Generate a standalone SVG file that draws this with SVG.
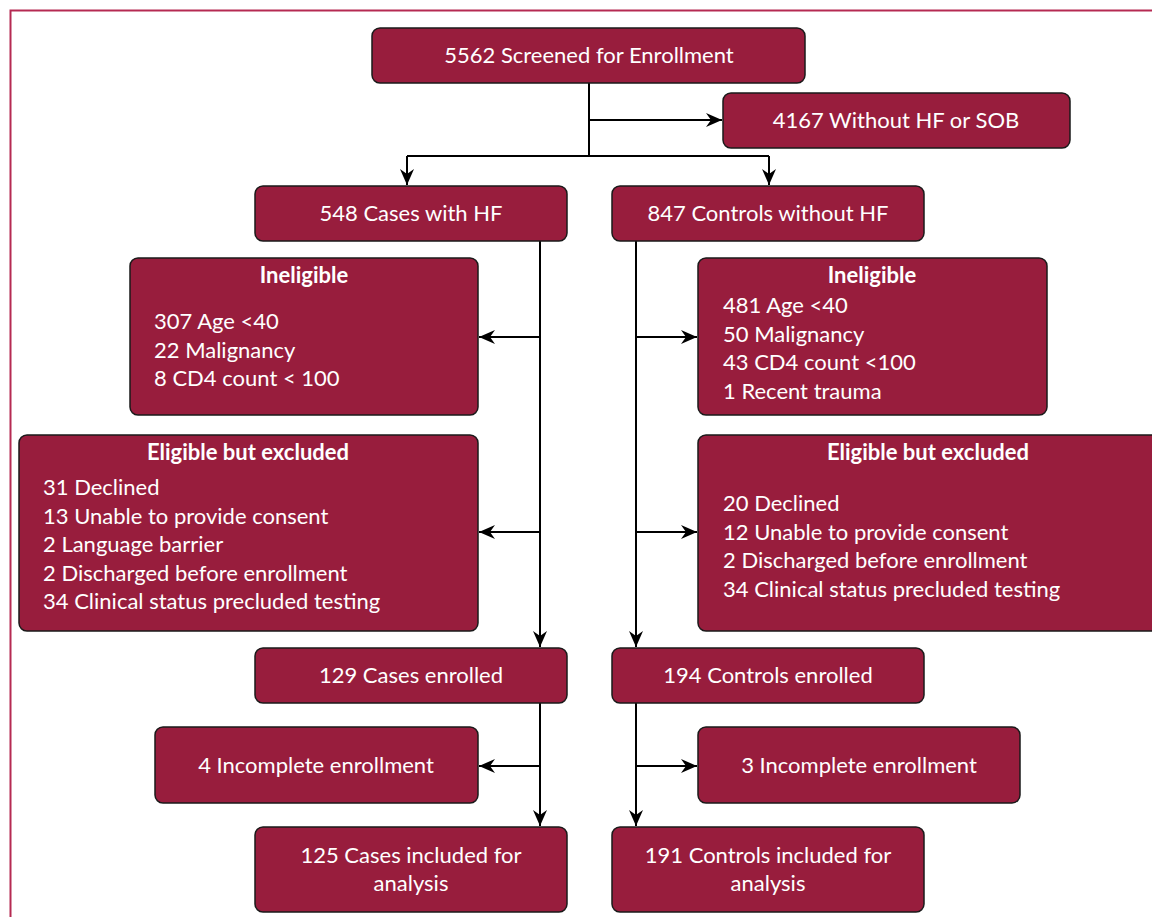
<svg xmlns="http://www.w3.org/2000/svg" width="1152" height="917" viewBox="0 0 1152 917">
<style>
.box{fill:#981d3d;stroke:#1a1a1a;stroke-width:1.5}
.t{font-family:Lato,"Open Sans","Liberation Sans",sans-serif;font-size:22px;fill:#ffffff}
.c{text-anchor:middle}
.b{font-weight:bold}
.ln{fill:none;stroke:#000;stroke-width:2}
</style>
<defs>
<marker id="ah" markerWidth="16" markerHeight="14" refX="16" refY="7" orient="auto" markerUnits="userSpaceOnUse" viewBox="0 0 16 14">
<path d="M0,0 L16,7 L0,14 L5,7 Z" fill="#000"/>
</marker>
</defs>
<rect x="0" y="0" width="1152" height="917" fill="#fff"/>
<path d="M10.5,917 L10.5,10.5 L1152,10.5" fill="none" stroke="#b52a52" stroke-width="2"/>
<g id="connectors">
<path class="ln" d="M589,83 V156"/>
<path class="ln" d="M589,120 H722" marker-end="url(#ah)"/>
<path class="ln" d="M407,156 H769"/>
<path class="ln" d="M407,156 V185" marker-end="url(#ah)"/>
<path class="ln" d="M769,156 V185" marker-end="url(#ah)"/>
<path class="ln" d="M540,241 V647" marker-end="url(#ah)"/>
<path class="ln" d="M540,337 H479" marker-end="url(#ah)"/>
<path class="ln" d="M540,532 H479" marker-end="url(#ah)"/>
<path class="ln" d="M636,241 V647" marker-end="url(#ah)"/>
<path class="ln" d="M636,337 H697" marker-end="url(#ah)"/>
<path class="ln" d="M636,532 H697" marker-end="url(#ah)"/>
<path class="ln" d="M540,703 V826" marker-end="url(#ah)"/>
<path class="ln" d="M540,766 H479" marker-end="url(#ah)"/>
<path class="ln" d="M636,703 V826" marker-end="url(#ah)"/>
<path class="ln" d="M636,766 H697" marker-end="url(#ah)"/>
</g>
<g id="screened"><rect class="box" x="372" y="28" width="433" height="55" rx="8"/><text class="t c" x="589" y="63">5562 Screened for Enrollment</text></g>
<g id="without"><rect class="box" x="723" y="93" width="347" height="55" rx="8"/><text class="t c" x="896" y="128">4167 Without HF or SOB</text></g>
<g id="cases"><rect class="box" x="255" y="186" width="312" height="55" rx="8"/><text class="t c" x="411" y="221">548 Cases with HF</text></g>
<g id="controls"><rect class="box" x="612" y="186" width="312" height="55" rx="8"/><text class="t c" x="768" y="221">847 Controls without HF</text></g>
<g id="inel-left"><rect class="box" x="130" y="258" width="348" height="157" rx="8"/>
<text class="t c b" x="304" y="283">Ineligible</text>
<text class="t" x="154" y="329">307 Age &lt;40</text>
<text class="t" x="154" y="358">22 Malignancy</text>
<text class="t" x="154" y="386">8 CD4 count &lt; 100</text></g>
<g id="inel-right"><rect class="box" x="698" y="258" width="349" height="157" rx="8"/>
<text class="t c b" x="872" y="283">Ineligible</text>
<text class="t" x="723" y="313">481 Age &lt;40</text>
<text class="t" x="723" y="342">50 Malignancy</text>
<text class="t" x="723" y="370">43 CD4 count &lt;100</text>
<text class="t" x="723" y="399">1 Recent trauma</text></g>
<g id="elig-left"><rect class="box" x="19" y="435" width="459" height="196" rx="8"/>
<text class="t c b" x="248" y="460">Eligible but excluded</text>
<text class="t" x="43" y="495">31 Declined</text>
<text class="t" x="43" y="524">13 Unable to provide consent</text>
<text class="t" x="43" y="552">2 Language barrier</text>
<text class="t" x="43" y="581">2 Discharged before enrollment</text>
<text class="t" x="43" y="609">34 Clinical status precluded testing</text></g>
<g id="elig-right"><rect class="box" x="698" y="435" width="470" height="196" rx="8"/>
<text class="t c b" x="928" y="460">Eligible but excluded</text>
<text class="t" x="723" y="511">20 Declined</text>
<text class="t" x="723" y="540">12 Unable to provide consent</text>
<text class="t" x="723" y="568">2 Discharged before enrollment</text>
<text class="t" x="723" y="597">34 Clinical status precluded testing</text></g>
<g id="cases-enrolled"><rect class="box" x="255" y="648" width="312" height="55" rx="8"/><text class="t c" x="411" y="683">129 Cases enrolled</text></g>
<g id="controls-enrolled"><rect class="box" x="612" y="648" width="312" height="55" rx="8"/><text class="t c" x="768" y="683">194 Controls enrolled</text></g>
<g id="incomplete-left"><rect class="box" x="155" y="727" width="323" height="76" rx="8"/><text class="t c" x="316" y="773">4 Incomplete enrollment</text></g>
<g id="incomplete-right"><rect class="box" x="698" y="727" width="322" height="76" rx="8"/><text class="t c" x="859" y="773">3 Incomplete enrollment</text></g>
<g id="cases-analysis"><rect class="box" x="255" y="827" width="312" height="85" rx="8"/><text class="t c" x="411" y="863">125 Cases included for</text><text class="t c" x="411" y="891">analysis</text></g>
<g id="controls-analysis"><rect class="box" x="612" y="827" width="312" height="85" rx="8"/><text class="t c" x="768" y="863">191 Controls included for</text><text class="t c" x="768" y="891">analysis</text></g>
</svg>
